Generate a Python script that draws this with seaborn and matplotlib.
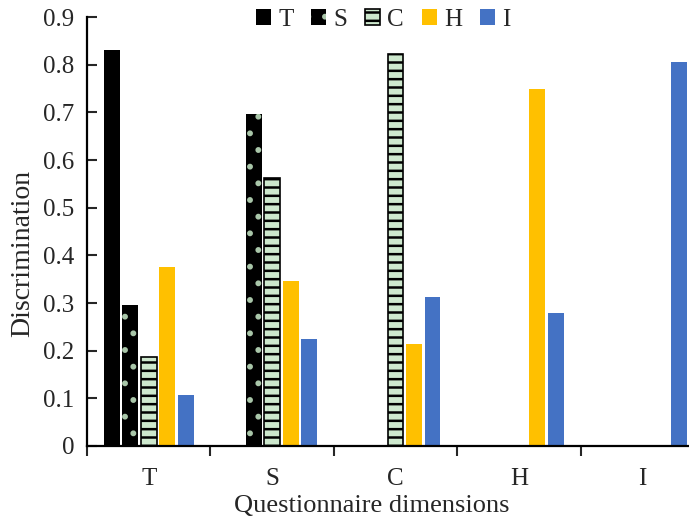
import numpy as np
import pandas as pd
import matplotlib
matplotlib.use("Agg")
import matplotlib.pyplot as plt
import seaborn as sns
from matplotlib.patches import Rectangle

dims = ["T", "S", "C", "H", "I"]
items = ["T", "S", "C", "H", "I"]

# discrimination of each item series within each questionnaire dimension
val_T = [0.830, np.nan, np.nan, np.nan, np.nan]
val_S = [0.295, 0.697, np.nan, np.nan, np.nan]
val_C = [0.186, 0.562, 0.822, np.nan, np.nan]
val_H = [0.375, 0.347, 0.215, 0.750, np.nan]
val_I = [0.107, 0.225, 0.313, 0.280, 0.805]

colors = ["#000000", "#000000", "#cde8cd", "#ffc000", "#4472c4"]

df = pd.DataFrame({
    "dimension": dims * 5,
    "item": np.repeat(items, 5),
    "value": val_T + val_S + val_C + val_H + val_I,
})

sns.set_style("white")
plt.rcParams["font.family"] = ["Liberation Serif", "DejaVu Serif"]
plt.rcParams["hatch.linewidth"] = 1.8

fig = plt.figure(figsize=(6.89, 5.22), dpi=100)
ax = fig.add_axes([0.1263, 0.1456, 0.8955, 0.8218])

sns.barplot(data=df, x="dimension", y="value", hue="item", order=dims,
            hue_order=items, palette=colors, width=0.75, gap=0.14,
            saturation=1, legend=False, ax=ax)

# patterns for the two textured series
for i, cont in enumerate(ax.containers):
    for bar in cont:
        if i == 1:
            bar.set_edgecolor("#a9c6a9")
            bar.set_hatch(".")
            bar.set_linewidth(0)
        elif i == 2:
            bar.set_edgecolor("black")
            bar.set_hatch("--")
            bar.set_linewidth(1.2)
        else:
            bar.set_linewidth(0)

ax.set_xlim(-0.5, 4.5)
ax.set_ylim(0, 0.9)
ax.set_yticks(np.arange(0, 0.91, 0.1))
ax.set_yticklabels(["0"] + [f"{v:.1f}" for v in np.arange(0.1, 0.91, 0.1)])
ax.set_xticks(range(5))
ax.set_xticklabels(dims)
ax.set_xticks(np.arange(-0.5, 4.6, 1), minor=True)

for s in ["top", "right"]:
    ax.spines[s].set_visible(False)
for s in ["left", "bottom"]:
    ax.spines[s].set_linewidth(1.6)
    ax.spines[s].set_color("black")

ax.tick_params(axis="y", direction="in", length=7, width=1.5, pad=9,
               labelsize=18, left=True)
ax.tick_params(axis="x", which="major", length=0, pad=16, labelsize=18)
ax.tick_params(axis="x", which="minor", direction="out", length=7, width=1.5,
               bottom=True)

ax.set_xlabel("Questionnaire dimensions", fontsize=19)
ax.set_ylabel("Discrimination", fontsize=20)
ax.xaxis.set_label_coords(0.462, -0.115)
ax.yaxis.set_label_coords(-0.084, 0.45)

handles = []
for i, c in enumerate(colors):
    if i == 1:
        handles.append(Rectangle((0, 0), 1, 1, facecolor=c, edgecolor="#a9c6a9", hatch=".", lw=0))
    elif i == 2:
        handles.append(Rectangle((0, 0), 1, 1, facecolor=c, edgecolor="black", hatch="--", lw=1.2))
    else:
        handles.append(Rectangle((0, 0), 1, 1, facecolor=c, lw=0))
fig.legend(handles, items, loc="center", bbox_to_anchor=(0.556, 0.962), ncol=5,
           frameon=False, fontsize=18, handlelength=0.6, handleheight=0.6,
           handletextpad=0.3, columnspacing=0.7, borderpad=0)

fig.savefig("out.png", dpi=100)
